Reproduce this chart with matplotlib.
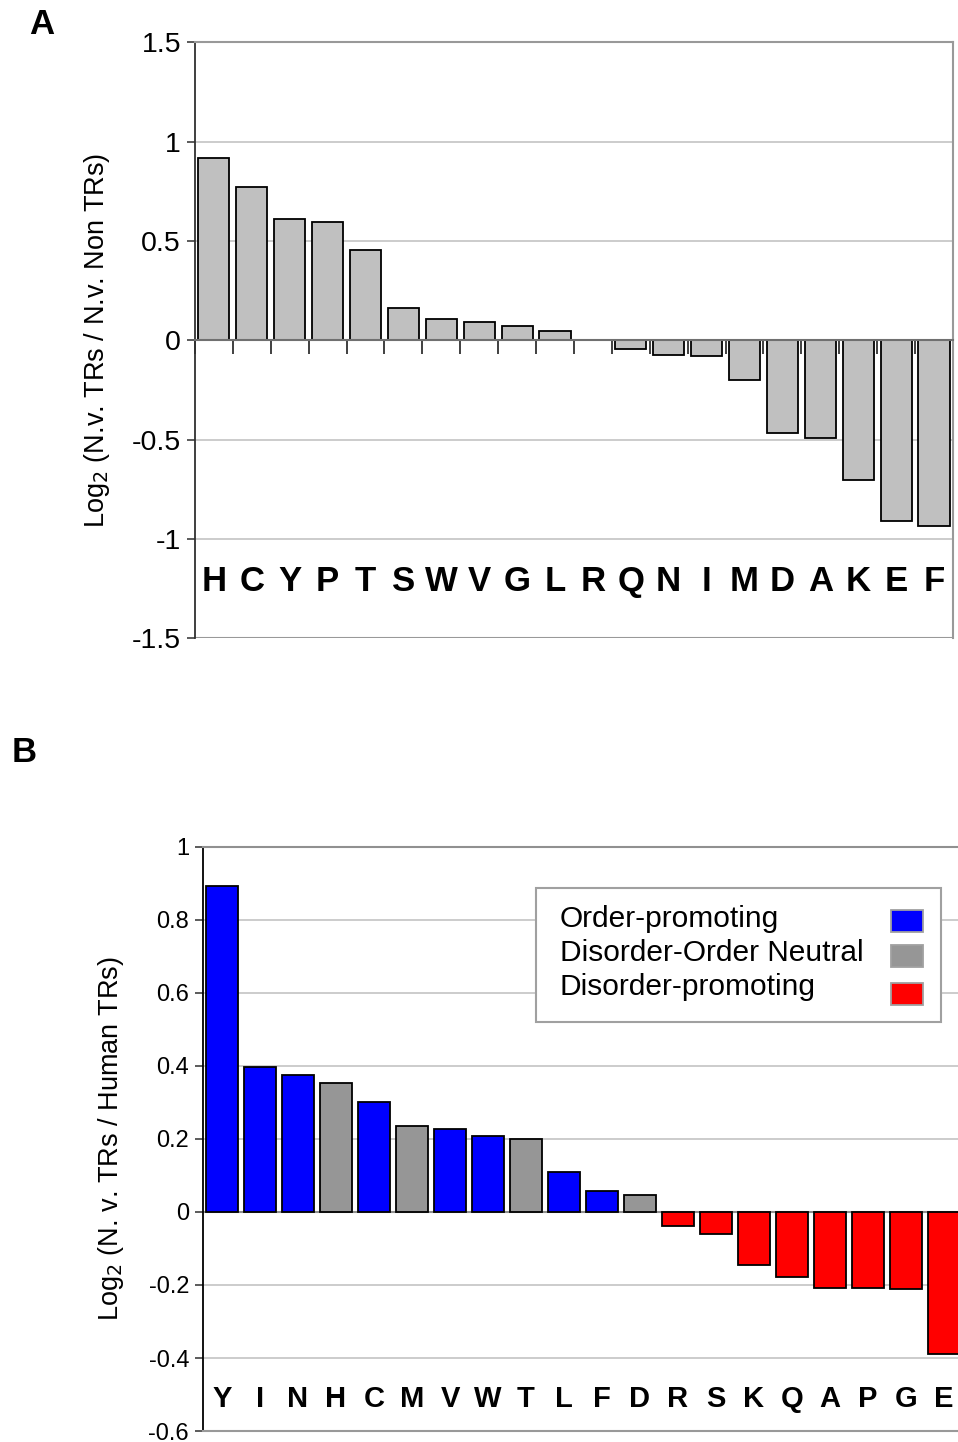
import matplotlib
matplotlib.use("Agg")
import matplotlib.pyplot as plt
from matplotlib.patches import Rectangle

plt.rcParams['font.family'] = ['Liberation Sans', 'DejaVu Sans']

# Panel A: N.v. TRs vs N.v. non-TRs
a_letters = list("HCYPTSWVGLRQNIMDAKEF")
a_values = [0.92, 0.774, 0.612, 0.597, 0.456, 0.163, 0.106, 0.091, 0.074, 0.049,
            0.0, -0.042, -0.073, -0.081, -0.201, -0.468, -0.491, -0.703, -0.911, -0.936]
a_yticks = [1.5, 1, 0.5, 0, -0.5, -1, -1.5]
a_yticklabels = ["1.5", "1", "0.5", "0", "-0.5", "-1", "-1.5"]

# Panel B: N.v. TRs vs human TRs, coloured by disorder propensity
b_letters = list("YINHCMVWTLFDRSKQAPGE")
b_values = [0.893, 0.397, 0.375, 0.353, 0.302, 0.234, 0.226, 0.209, 0.201, 0.109,
            0.057, 0.047, -0.039, -0.061, -0.146, -0.178, -0.207, -0.207, -0.21, -0.39]
b_groups = ["order", "order", "order", "neutral", "order", "neutral", "order", "order",
            "neutral", "order", "order", "neutral", "disorder", "disorder", "disorder",
            "disorder", "disorder", "disorder", "disorder", "disorder"]
b_yticks = [1, 0.8, 0.6, 0.4, 0.2, 0, -0.2, -0.4, -0.6]
b_yticklabels = ["1", "0.8", "0.6", "0.4", "0.2", "0", "-0.2", "-0.4", "-0.6"]

group_names = ["order", "neutral", "disorder"]
group_labels = ["Order-promoting", "Disorder-Order Neutral", "Disorder-promoting"]
group_colors = {"order": "#0000FF", "neutral": "#969696", "disorder": "#FF0000"}

fig = plt.figure(figsize=(9.58, 14.42), dpi=100)

# ---------------- Panel A ----------------
axA = fig.add_axes([0.2035, 0.5573, 0.7912, 0.4134])
xa = list(range(len(a_letters)))
edges = ["black" if v != 0 else "none" for v in a_values]
axA.bar(xa, a_values, width=0.82, color="#C0C0C0", edgecolor=edges, linewidth=1.3, zorder=3)
axA.set_xlim(-0.5, len(a_letters) - 0.5)
axA.set_ylim(-1.5, 1.5)
axA.set_yticks(a_yticks)
axA.set_yticklabels(a_yticklabels, fontsize=20.5)
for y in [1, 0.5, -0.5, -1]:
    axA.axhline(y, color="#C8C8C8", lw=1.3, zorder=1)
axA.axhline(-1.5, color="#999999", lw=1.5, zorder=1)
# zero line with category boundary ticks
axA.spines["bottom"].set_position(("data", 0))
axA.spines["bottom"].set_color("#707070")
axA.spines["bottom"].set_linewidth(1.5)
axA.spines["bottom"].set_zorder(4)
axA.set_xticks([i - 0.5 for i in range(len(a_letters) + 1)])
axA.set_xticklabels([])
axA.tick_params(axis="x", direction="out", length=10, width=1.2, color="#202020")
axA.tick_params(axis="y", direction="out", length=6, width=1.2, color="#404040", pad=4)
for s in ["top", "right"]:
    axA.spines[s].set_color("#999999")
    axA.spines[s].set_linewidth(1.5)
axA.spines["left"].set_color("#303030")
axA.spines["left"].set_linewidth(1.3)
for i, lab in enumerate(a_letters):
    axA.text(i, -1.215, lab, ha="center", va="center", fontsize=25, fontweight="bold")
axA.set_ylabel("Log$_2$ (N.v. TRs / N.v. Non TRs)", fontsize=19.5, labelpad=14)
fig.text(42 / 958, 1 - 25 / 1442, "A", fontsize=25, fontweight="bold", ha="center", va="center")

# ---------------- Panel B ----------------
axB = fig.add_axes([0.2119, 0.0076, 0.7933, 0.4052])
xb = list(range(len(b_letters)))
axB.bar(xb, b_values, width=0.82, color=[group_colors[g] for g in b_groups],
        edgecolor="black", linewidth=1.3, zorder=3)
axB.set_xlim(-0.5, len(b_letters) - 0.5)
axB.set_ylim(-0.6, 1.0)
axB.set_yticks(b_yticks)
axB.set_yticklabels(b_yticklabels, fontsize=17)
for y in [0.8, 0.6, 0.4, 0.2, -0.2, -0.4]:
    axB.axhline(y, color="#C8C8C8", lw=1.3, zorder=1)
axB.axhline(0, color="#909090", lw=1.5, zorder=2)
axB.set_xticks([])
axB.tick_params(axis="y", direction="out", length=6, width=1.2, color="#404040", pad=4)
axB.spines["top"].set_color("#909090")
axB.spines["top"].set_linewidth(1.5)
axB.spines["bottom"].set_color("#999999")
axB.spines["bottom"].set_linewidth(1.5)
axB.spines["right"].set_visible(False)
axB.spines["left"].set_color("black")
axB.spines["left"].set_linewidth(1.3)
for i, lab in enumerate(b_letters):
    axB.text(i, -0.513, lab, ha="center", va="center", fontsize=21, fontweight="bold")
axB.set_ylabel("Log$_2$ (N. v. TRs / Human TRs)", fontsize=19.5, labelpad=16)
fig.text(24 / 958, 1 - 753 / 1442, "B", fontsize=25, fontweight="bold", ha="center", va="center")

# legend box drawn by hand so labels stay left-aligned and swatches right-aligned
tr = axB.transAxes
axB.add_patch(Rectangle((0.438, 0.700), 0.533, 0.2293, transform=tr, facecolor="white",
                        edgecolor="#A0A0A0", lw=1.5, zorder=5))
text_y = [0.8768, 0.8189, 0.7593]
swatch_y = [0.8734, 0.8124, 0.7479]
for k, g in enumerate(group_names):
    axB.text(0.4697, text_y[k], group_labels[k], transform=tr, fontsize=21.5,
             ha="left", va="center", zorder=6)
    axB.add_patch(Rectangle((0.9053, swatch_y[k] - 0.0187), 0.0421, 0.0375, transform=tr,
                            facecolor=group_colors[g], edgecolor="#A0A0A0", lw=1.3, zorder=6))

fig.savefig("out.png", dpi=100)
